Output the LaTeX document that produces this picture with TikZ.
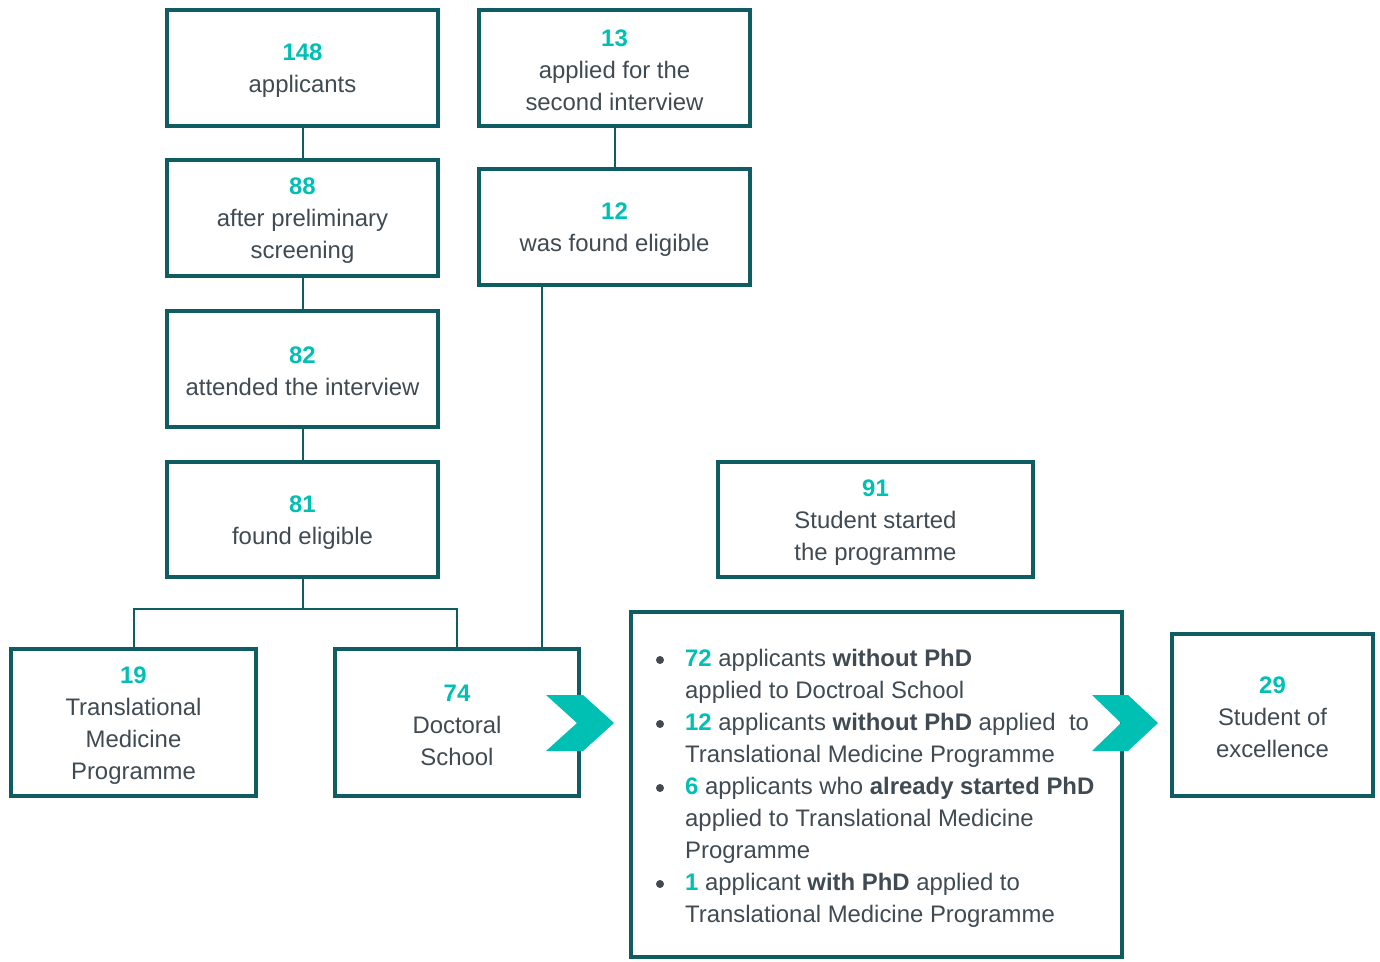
\documentclass[tikz,border=0pt]{standalone}
\usepackage{fontspec}
\setmainfont{Liberation Sans}
\definecolor{edge}{HTML}{0F5C63}
\definecolor{num}{HTML}{00BFB3}
\definecolor{txt}{HTML}{3F4A52}
\newcommand{\nm}[1]{{\bfseries\color{num}#1}}
\newcommand{\tp}[1]{\rule{0pt}{22pt}{\bfseries\color{num}#1}}
\newcommand{\bd}[1]{{\bfseries #1}}
\begin{document}
\begin{tikzpicture}[x=1pt,y=-1pt,
  every node/.style={font=\fontsize{23.9}{32}\selectfont, text=txt},
  box/.style={draw=edge, line width=4pt, align=center, inner sep=0pt},
  link/.style={draw=edge, line width=2pt},
  chev/.style={fill=num, draw=none},
  item/.style={anchor=north west, align=left, inner sep=0pt},
  dot/.style={circle, fill=txt, inner sep=0pt, minimum size=8pt}
]
\useasboundingbox (0,0) rectangle (1380,961);
% left column
\node[box, minimum width=271pt, minimum height=116pt] (b148) at (302.5,68) {\tp{148}\\applicants};
\node[box, minimum width=271pt, minimum height=116pt] (b88) at (302.5,218) {\tp{88}\\after preliminary\\screening};
\node[box, minimum width=271pt, minimum height=116pt] (b82) at (302.5,369) {\tp{82}\\attended the interview};
\node[box, minimum width=271pt, minimum height=115pt] (b81) at (302.5,519.5) {\tp{81}\\found eligible};
% second column
\node[box, minimum width=271pt, minimum height=116pt] (b13) at (614.5,68) {\tp{13}\\applied for the\\second interview};
\node[box, minimum width=271pt, minimum height=116pt] (b12) at (614.5,227) {\tp{12}\\was found eligible};
% bottom row
\node[box, minimum width=245pt, minimum height=147pt] (b19) at (133.5,722.5) {\tp{19}\\Translational\\Medicine\\Programme};
\node[box, minimum width=244pt, minimum height=147pt] (b74) at (457,722.5) {\tp{74}\\Doctoral\\School};
\node[box, minimum width=315pt, minimum height=115pt] (b91) at (875.5,519.5) {\tp{91}\\Student started\\the programme};
\node[box, minimum width=491pt, minimum height=345pt] (blist) at (876.5,784.5) {};
\node[box, minimum width=201pt, minimum height=162pt] (b29) at (1272.5,715) {\tp{29}\\Student of\\excellence};
% connectors
\draw[link] (b148.south) -- (b88.north);
\draw[link] (b88.south) -- (b82.north);
\draw[link] (b82.south) -- (b81.north);
\draw[link] (b13.south) -- (b12.north);
\coordinate (split) at (302.5,609);
\draw[link] (b81.south) -- (split);
\draw[link] (b19.north) |- (split) -| (b74.north);
\coordinate (j12) at (542,287);
\draw[link] (j12) -- (j12 |- b74.north);
% chevrons
\fill[chev] (546,695) -- (583,695) -- (614,723) -- (583,751) -- (546,751) -- (577,723) -- cycle;
\fill[chev] (1092,695) -- (1128,695) -- (1158,723) -- (1128,751) -- (1092,751) -- (1121,723) -- cycle;
% list
\node[dot] (d1) at (660,660) {};
\node[dot] (d2) at (660,724) {};
\node[dot] (d3) at (660,788) {};
\node[dot] (d4) at (660,884) {};
\node[item] (i1) at (685,649) {\nm{72} applicants \bd{without PhD}\\applied to Doctroal School};
\node[item] (i2) at (685,713) {\nm{12} applicants \bd{without PhD} applied\ \ to\\Translational Medicine Programme};
\node[item] (i3) at (685,777) {\nm{6} applicants who \bd{already started PhD}\\applied to Translational Medicine\\Programme};
\node[item] (i4) at (685,873) {\nm{1} applicant \bd{with PhD} applied to\\Translational Medicine Programme};
\end{tikzpicture}
\end{document}
